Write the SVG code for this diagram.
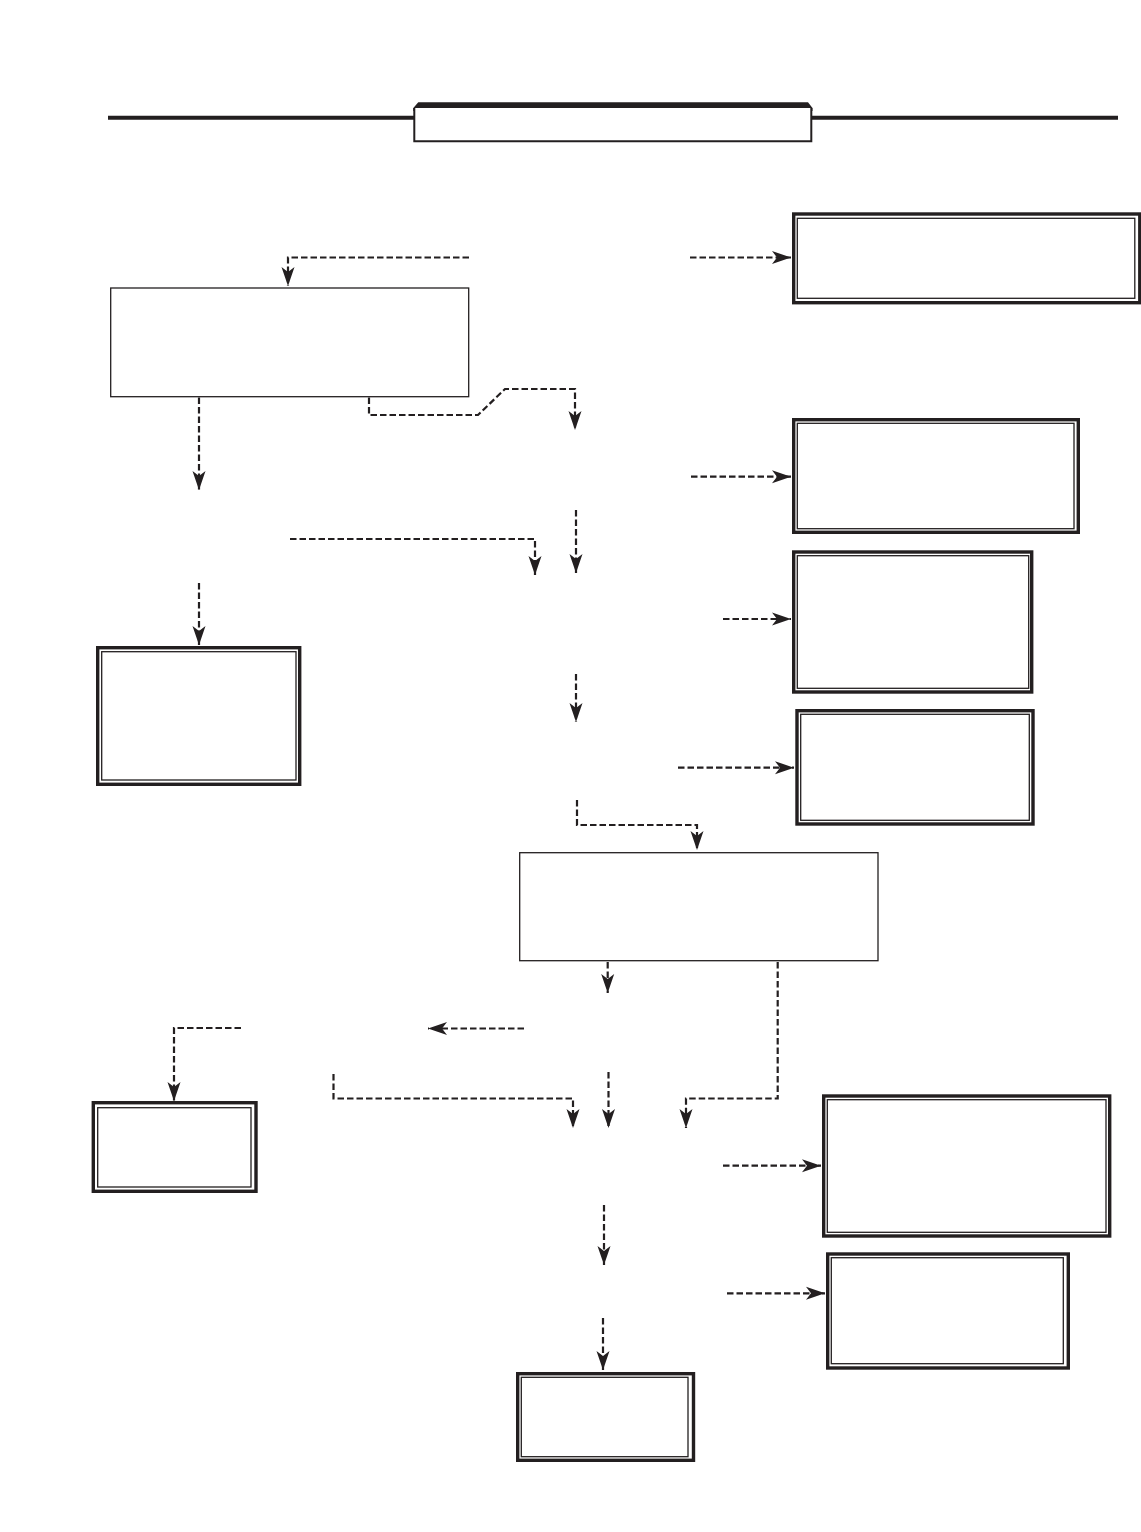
<svg xmlns="http://www.w3.org/2000/svg" width="1141" height="1532" viewBox="0 0 1141 1532">
<defs>
<style>
.bg{fill:#ffffff}
.outer{fill:none;stroke:#231f20;stroke-width:3.4}
.inner{fill:none;stroke:#231f20;stroke-width:1.3}
.plain{fill:#ffffff;stroke:#231f20;stroke-width:1.3}
.conn{fill:none;stroke:#231f20;stroke-width:2.2;stroke-dasharray:6.5 3;marker-end:url(#arr)}
.rule{fill:none;stroke:#231f20;stroke-width:4}
</style>
<marker id="arr" markerUnits="userSpaceOnUse" markerWidth="20" markerHeight="14" refX="19" refY="7" orient="auto" viewBox="0 0 20 14">
<path d="M0,0.5 L19,7 L0,13.5 L5,7 Z" fill="#231f20"/>
</marker>
</defs>
<rect class="bg" x="0" y="0" width="1141" height="1532"/>

<g id="title">
<line class="rule" x1="108" y1="117.7" x2="414" y2="117.7"/>
<line class="rule" x1="812" y1="117.7" x2="1118" y2="117.7"/>
<path d="M413.3,111 L413.3,108 L418.3,102.3 L808,102.3 L812.5,108 L812.5,111 Z" fill="#231f20"/>
<path d="M414.3,108 V141.3 H811.3 V108" fill="#ffffff" stroke="#231f20" stroke-width="2"/>
</g>

<g id="connectors">
<path class="conn" d="M469,257.5 H288 V286"/>
<path class="conn" d="M690,257.5 H791"/>
<path class="conn" d="M199,397.5 V490"/>
<path class="conn" d="M369,397.5 V415 H478 L505,389 H575 V430"/>
<path class="conn" d="M691,476.7 H791"/>
<path class="conn" d="M576,510 V573"/>
<path class="conn" d="M290,539 H535 V575"/>
<path class="conn" d="M199,583 V645"/>
<path class="conn" d="M723,619 H791"/>
<path class="conn" d="M576,674 V722"/>
<path class="conn" d="M678,767.7 H794"/>
<path class="conn" d="M577,800 V825 H697 V850"/>
<path class="conn" d="M607.7,962 V993"/>
<path class="conn" d="M524,1028.5 H428"/>
<path class="conn" d="M241,1028 H174 V1101"/>
<path class="conn" d="M333.5,1074 V1098.5 H573 V1128"/>
<path class="conn" d="M608.5,1072 V1128"/>
<path class="conn" d="M777.7,962 V1098.5 H686 V1128"/>
<path class="conn" d="M723,1165.7 H821"/>
<path class="conn" d="M604,1205 V1265"/>
<path class="conn" d="M727,1293.3 H825"/>
<path class="conn" d="M603,1318 V1370"/>
</g>

<g id="node-b"><rect class="plain" x="110.7" y="288" width="358" height="108.7"/></g>
<g id="node-d"><rect class="plain" x="519.7" y="852.7" width="358.3" height="108"/></g>

<g id="node-a">
<rect class="outer" x="793.7" y="214" width="346.1" height="88.7"/>
<rect class="inner" x="797.3" y="218.3" width="337.5" height="80"/>
</g>
<g id="node-f">
<rect class="outer" x="793.7" y="419.7" width="284.6" height="112.6"/>
<rect class="inner" x="797.3" y="423.3" width="276.7" height="105.4"/>
</g>
<g id="node-g">
<rect class="outer" x="793.7" y="552" width="238" height="140"/>
<rect class="inner" x="797.3" y="555.7" width="231.4" height="132.6"/>
</g>
<g id="node-h">
<rect class="outer" x="797" y="710.7" width="236" height="113.3"/>
<rect class="inner" x="800.7" y="714.3" width="228.6" height="106"/>
</g>
<g id="node-c">
<rect class="outer" x="97.7" y="647.7" width="202" height="136.6"/>
<rect class="inner" x="101.7" y="651.7" width="194.3" height="128.3"/>
</g>
<g id="node-i">
<rect class="outer" x="93.3" y="1102.7" width="162.7" height="88.6"/>
<rect class="inner" x="97.7" y="1107.7" width="153.3" height="79.3"/>
</g>
<g id="node-j">
<rect class="outer" x="823.7" y="1096" width="286" height="140"/>
<rect class="inner" x="827.3" y="1099.7" width="278.7" height="132.6"/>
</g>
<g id="node-k">
<rect class="outer" x="827.7" y="1254" width="240.6" height="114"/>
<rect class="inner" x="831.3" y="1257.7" width="232" height="106"/>
</g>
<g id="node-e">
<rect class="outer" x="517.7" y="1373.7" width="175.8" height="86.6"/>
<rect class="inner" x="521.3" y="1377.3" width="166.7" height="79.4"/>
</g>
</svg>
